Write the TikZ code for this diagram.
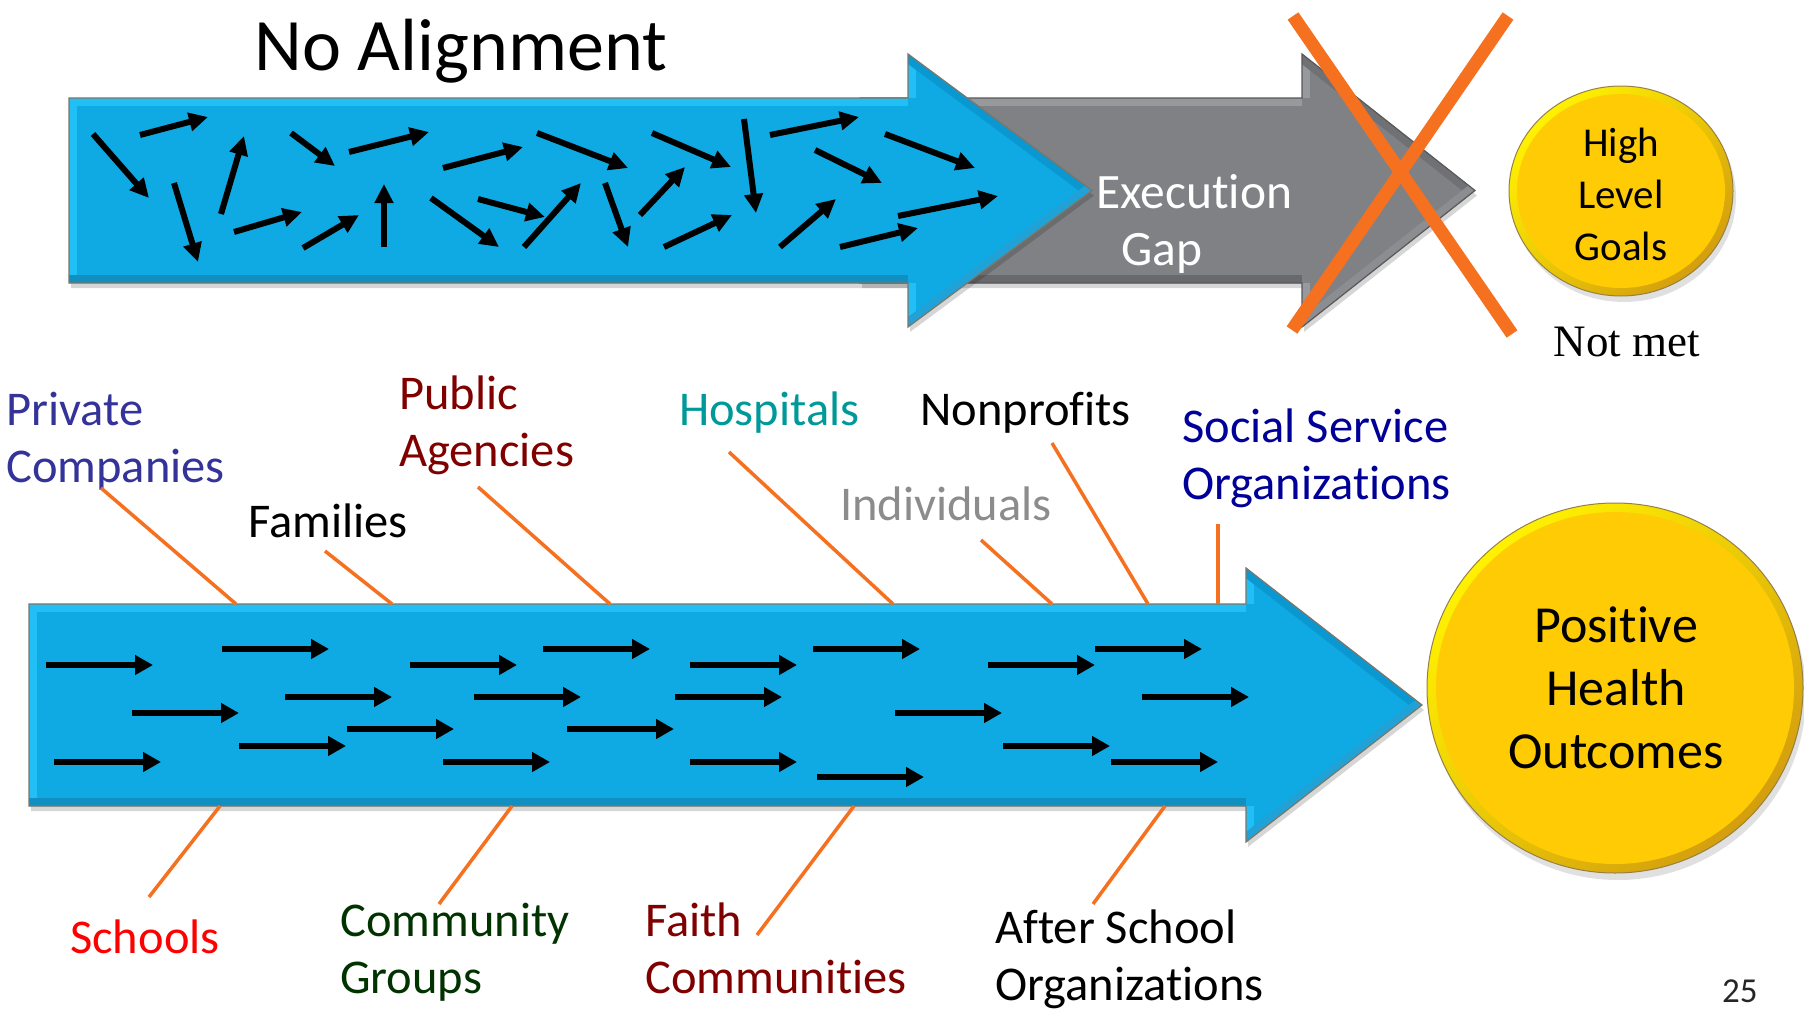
\documentclass[tikz,border=0pt]{standalone}
\usepackage{fontspec}
\setmainfont{Carlito}[Ligatures=NoCommon]
\newfontfamily\serifnm{Liberation Serif}
\usetikzlibrary{arrows.meta,positioning}

\definecolor{bluemain}{RGB}{15,170,227}
\definecolor{bluelight}{RGB}{34,190,246}
\definecolor{bluedark}{RGB}{18,143,193}
\definecolor{blueup}{RGB}{11,152,209}
\definecolor{bluelow}{RGB}{32,162,214}
\definecolor{blueedge}{RGB}{125,118,104}
\definecolor{graymain}{RGB}{128,129,132}
\definecolor{graylight}{RGB}{152,153,156}
\definecolor{graydark}{RGB}{104,105,108}
\definecolor{grayup}{RGB}{112,113,117}
\definecolor{graylow}{RGB}{140,141,144}
\definecolor{grayedge}{RGB}{88,88,90}
\definecolor{leaderorange}{RGB}{245,113,32}
\definecolor{goldfill}{RGB}{255,203,5}
\definecolor{goldhi}{RGB}{255,242,0}
\definecolor{goldlo}{RGB}{212,158,14}
\definecolor{goldedge}{RGB}{150,128,70}
\definecolor{privcol}{RGB}{51,51,153}
\definecolor{pubcol}{RGB}{128,0,0}
\definecolor{hospcol}{RGB}{0,153,153}
\definecolor{indivcol}{RGB}{140,140,140}
\definecolor{socialcol}{RGB}{0,0,153}
\definecolor{schoolcol}{RGB}{255,0,0}
\definecolor{commcol}{RGB}{0,51,0}
\definecolor{faithcol}{RGB}{128,0,0}

% #1 left, #2 shaft top, #3 shaft bottom, #4 head base, #5 head top, #6 head bottom, #7 tip, #8 colour set
\newcommand{\bevelarrow}[8]{%
  \pgfmathsetmacro\tipy{(#2+#3)/2}
  \begin{scope}[shift={(2,5)}]
    \fill[black,opacity=.16] (#1,#2) -- (#4,#2) -- (#4,#5) -- (#7,\tipy) -- (#4,#6) -- (#4,#3) -- (#1,#3) -- cycle;
  \end{scope}
  \fill[#8main] (#1,#2) -- (#4,#2) -- (#4,#5) -- (#7,\tipy) -- (#4,#6) -- (#4,#3) -- (#1,#3) -- cycle;
  \begin{scope}
    \clip (#1,#2) -- (#4,#2) -- (#4,#5) -- (#7,\tipy) -- (#4,#6) -- (#4,#3) -- (#1,#3) -- cycle;
    \draw[bevel,#8light] (#1,#3) -- (#1,#2) -- (#4,#2);
    \draw[bevel,#8light] (#4,#2) -- (#4,#5);
    \draw[bevel,#8light] (#4,#6) -- (#4,#3);
    \draw[bevel,#8up] (#4,#5) -- (#7,\tipy);
    \draw[bevel,#8low] (#7,\tipy) -- (#4,#6);
    \draw[bevel,#8dark] (#4,#3) -- (#1,#3);
  \end{scope}
  \draw[#8edge,line width=1.2pt,line join=miter] (#1,#2) -- (#4,#2) -- (#4,#5) -- (#7,\tipy) -- (#4,#6) -- (#4,#3) -- (#1,#3) -- cycle;
}

\tikzset{
  bevel/.style={line width=16pt},
  jitter/.style={line width=6pt,-{Triangle[length=19pt,width=18pt]}},
  flow/.style={line width=6.5pt,-{Triangle[length=18pt,width=19pt]}},
  leader/.style={leaderorange,line width=3.5pt},
  cross/.style={leaderorange,line width=13pt},
  lbl/.style={font=\fontsize{48.5}{57}\selectfont,align=left,anchor=base west,inner sep=0pt},
  goal/.style={shading=axis,top color=goldhi,bottom color=goldlo,shading angle=45}
}

\begin{document}
\begin{tikzpicture}[x=1pt,y=-1pt]
\useasboundingbox (0,0) rectangle (1804,1009);
\fill[white] (0,0) rectangle (1804,1009);

\node[font=\fontsize{74}{89}\selectfont,anchor=base west,inner sep=0pt] (title) at (254,70) {No Alignment};

\bevelarrow{860}{98}{283}{1302}{54}{327}{1475}{gray}
\bevelarrow{69}{98}{283}{908}{54}{327}{1092}{blue}

\foreach \ax/\ay/\bx/\by in {93/134/149/198, 140/135/208/117, 174/183/198/262, 221/214/244/136,
  291/133/335/166, 349/152/429/132, 234/232/302/212, 303/248/359/215, 384/247/384/184,
  443/168/523/147, 537/133/628/168, 431/198/499/247, 478/199/545/217, 524/247/581/183,
  605/183/628/247, 640/215/685/167, 652/133/731/167, 664/247/732/215, 744/119/756/213,
  770/135/859/117, 815/150/882/183, 885/134/975/168, 780/247/836/199, 898/216/998/196,
  840/247/918/228}
  \draw[jitter] (\ax,\ay) -- (\bx,\by);

% last baseline of multi-line nodes
\node[font=\fontsize{49.5}{57}\selectfont,text=white,align=left,anchor=base west,inner sep=0pt] (gap) at (1096,265) {Execution\\\hspace*{25pt}Gap};

\draw[cross] (1293,16) -- (1512,334);
\draw[cross] (1508,16) -- (1292,330);

\fill[black,opacity=.12] (1624,197) ellipse [x radius=112,y radius=105];
\shade[goal] (1621,191) ellipse [x radius=112,y radius=105];
\fill[goldfill] (1621,191) ellipse [x radius=104,y radius=97];
\draw[goldedge,line width=1pt] (1621,191) ellipse [x radius=112,y radius=105];
\node[font=\fontsize{41}{52}\selectfont,align=center,anchor=base,inner sep=0pt] (goals) at (1621,260) {High\\Level\\Goals};
\node[font=\serifnm\fontsize{45}{52}\selectfont,anchor=base,inner sep=0pt] (notmet) at (1627,356) {Not met};

\bevelarrow{29}{604}{806}{1246}{568}{842}{1422}{blue}

\foreach \x/\y in {222/649, 543/649, 813/649, 1095/649, 46/665, 410/665, 690/665, 988/665,
  285/697, 474/697, 675/697, 1142/697, 132/713, 895/713, 347/729, 567/729,
  239/746, 1003/746, 54/762, 443/762, 690/762, 1111/762, 817/777}
  \draw[flow] (\x,\y) -- ++(107,0);

\fill[black,opacity=.12] (1618,695) ellipse [x radius=188,y radius=185];
\shade[goal] (1615,688) ellipse [x radius=188,y radius=185];
\fill[goldfill] (1615,688) ellipse [x radius=179,y radius=176];
\draw[goldedge,line width=1pt] (1615,688) ellipse [x radius=188,y radius=185];
\node[font=\fontsize{52}{63}\selectfont,align=center,anchor=base,inner sep=0pt] (outcomes) at (1616,768) {Positive\\Health\\Outcomes};

\node[lbl,text=privcol] (private) at (6,482) {Private\\Companies};
\node[lbl] (families) at (248,537) {Families};
\node[lbl,text=pubcol] (public) at (399,466) {Public\\Agencies};
\node[lbl,text=hospcol] (hospitals) at (679,425) {Hospitals};
\node[lbl] (nonprofits) at (920,425) {Nonprofits};
\node[lbl,text=indivcol] (individuals) at (840,520) {Individuals};
\node[lbl,text=socialcol] (social) at (1182,499) {Social Service\\Organizations};
\node[lbl,text=schoolcol] (schools) at (70,953) {Schools};
\node[lbl,text=commcol] (community) at (340,993) {Community\\Groups};
\node[lbl,text=faithcol] (faith) at (645,993) {Faith\\Communities};
\node[lbl] (afterschool) at (995,1000) {After School\\Organizations};
\node[font=\fontsize{35}{42}\selectfont,anchor=base west,inner sep=0pt,text=black!85] (pagenum) at (1722,1002) {25};

\foreach \n/\ax/\ay/\bx/\by in {private/101/488/236/604, families/325/551/392/604,
  public/478/487/610/604, hospitals/729/452/893/604, individuals/981/540/1052/604,
  nonprofits/1052/443/1148/604, social/1218/524/1218/604,
  schools/220/806/149/897, community/512/806/439/904, faith/854/806/757/935,
  afterschool/1165/806/1093/904}{
  \coordinate (\n-a) at (\ax,\ay);
  \coordinate (\n-b) at (\bx,\by);
  \draw[leader] (\n-a) -- (\n-b);
}
\end{tikzpicture}
\end{document}
